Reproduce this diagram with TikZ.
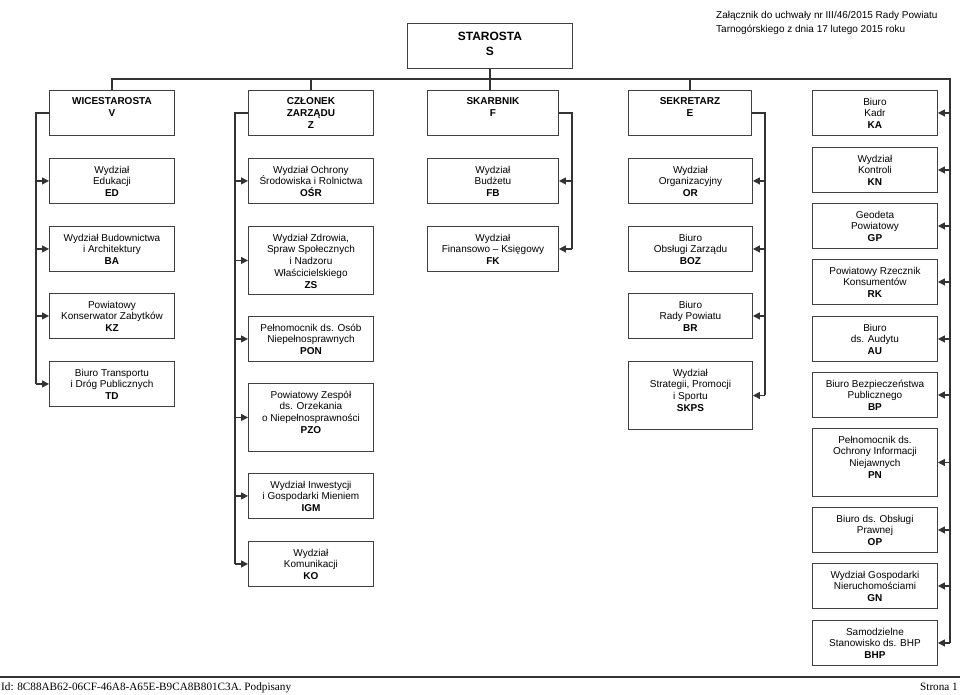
\documentclass[tikz,border=0pt]{standalone}
\usepackage{fontspec}
\setmainfont{Liberation Sans}
\newfontfamily\szeryf{Liberation Serif}
\usepackage{tikz}
\usetikzlibrary{arrows.meta}
\tikzset{
  komorka/.style={draw=black!75, line width=0.9pt, inner sep=0pt, anchor=north west}, % Rahmen
  opis/.style={anchor=north, align=center, inner sep=0pt,
    font=\fontsize{10}{11.8}\selectfont}, % Beschriftung
  linia/.style={draw=black!80, line width=1.2pt}, % Verbindungen
  strzalka/.style={linia, -{Triangle[length=7pt,width=7pt]}} % Pfeile
}
% Kasten: Name, x, y, Breite, Hoehe, Text
\newcommand{\Komorka}[7][]{%
  \node[komorka, minimum width=#5pt, minimum height=#6pt] (#2) at (#3,#4) {};
  \node[opis,#1] (#2-t) at ([yshift=-7.6pt]#2.north) {#7};
}

\begin{document}
\begin{tikzpicture}[x=1pt, y=-1pt]
\useasboundingbox (0,0) rectangle (960,694);

%Kopf
\node[anchor=north west, align=left, inner sep=0pt,
  font=\fontsize{10}{14}\selectfont] (kopf) at (716,11.2)
  {Załącznik do uchwały nr III/46/2015 Rady Powiatu\\
   Tarnogórskiego z dnia 17 lutego 2015 roku};

%Leitung
\Komorka[font=\fontsize{12}{15}\selectfont\bfseries, yshift=-1.4pt]{S}{407}{23}{165}{45}{STAROSTA\\S}
\Komorka{V}{49}{90}{125}{45}{\textbf{WICESTAROSTA}\\\textbf{V}}
\Komorka{Z}{248}{90}{125}{45}{\textbf{CZŁONEK}\\\textbf{ZARZĄDU}\\\textbf{Z}}
\Komorka{F}{427}{90}{131}{45}{\textbf{SKARBNIK}\\\textbf{F}}
\Komorka{E}{628}{90}{123}{45}{\textbf{SEKRETARZ}\\\textbf{E}}

%Wicestarosta
\Komorka{ED}{49}{158}{125}{45}{Wydział\\Edukacji\\\textbf{ED}}
\Komorka{BA}{49}{226}{125}{45}{Wydział Budownictwa\\i Architektury\\\textbf{BA}}
\Komorka{KZ}{49}{293}{125}{45}{Powiatowy\\Konserwator Zabytków\\\textbf{KZ}}
\Komorka{TD}{49}{361}{125}{45}{Biuro Transportu\\i Dróg Publicznych\\\textbf{TD}}

%Czlonek Zarzadu
\Komorka{OSR}{248}{158}{125}{45}{Wydział Ochrony\\Środowiska i Rolnictwa\\\textbf{OŚR}}
\Komorka{ZS}{248}{226}{125}{68}{Wydział Zdrowia,\\Spraw Społecznych\\i Nadzoru\\Właścicielskiego\\\textbf{ZS}}
\Komorka{PON}{248}{316}{125}{45}{Pełnomocnik ds. Osób\\Niepełnosprawnych\\\textbf{PON}}
\Komorka{PZO}{248}{383}{125}{68}{Powiatowy Zespół\\ds. Orzekania\\o Niepełnosprawności\\\textbf{PZO}}
\Komorka{IGM}{248}{473}{125}{45}{Wydział Inwestycji\\i Gospodarki Mieniem\\\textbf{IGM}}
\Komorka{KO}{248}{541}{125}{45}{Wydział\\Komunikacji\\\textbf{KO}}

%Skarbnik
\Komorka{FB}{427}{158}{131}{45}{Wydział\\Budżetu\\\textbf{FB}}
\Komorka{FK}{427}{226}{131}{45}{Wydział\\Finansowo – Księgowy\\\textbf{FK}}

%Sekretarz
\Komorka{OR}{628}{158}{124}{45}{Wydział\\Organizacyjny\\\textbf{OR}}
\Komorka{BOZ}{628}{226}{124}{45}{Biuro\\Obsługi Zarządu\\\textbf{BOZ}}
\Komorka{BR}{628}{293}{124}{45}{Biuro\\Rady Powiatu\\\textbf{BR}}
\Komorka{SKPS}{628}{361}{124}{68}{Wydział\\Strategii, Promocji\\i Sportu\\\textbf{SKPS}}

%Starosta direkt
\Komorka{KA}{812}{90}{125}{45}{Biuro\\Kadr\\\textbf{KA}}
\Komorka{KN}{812}{147}{125}{45}{Wydział\\Kontroli\\\textbf{KN}}
\Komorka{GP}{812}{203}{125}{45}{Geodeta\\Powiatowy\\\textbf{GP}}
\Komorka{RK}{812}{259}{125}{45}{Powiatowy Rzecznik\\Konsumentów\\\textbf{RK}}
\Komorka{AU}{812}{316}{125}{45}{Biuro\\ds. Audytu\\\textbf{AU}}
\Komorka{BP}{812}{372}{125}{45}{Biuro Bezpieczeństwa\\Publicznego\\\textbf{BP}}
\Komorka{PN}{812}{428}{125}{68}{Pełnomocnik ds.\\Ochrony Informacji\\Niejawnych\\\textbf{PN}}
\Komorka{OP}{812}{507}{125}{45}{Biuro ds. Obsługi\\Prawnej\\\textbf{OP}}
\Komorka{GN}{812}{563}{125}{45}{Wydział Gospodarki\\Nieruchomościami\\\textbf{GN}}
\Komorka{BHP}{812}{620}{125}{45}{Samodzielne\\Stanowisko ds. BHP\\\textbf{BHP}}

%Hilfspunkte
\coordinate (re) at (950,79);
\coordinate (lv) at (36,0);
\coordinate (lz) at (235,0);
\coordinate (rf) at (572,0);
\coordinate (rs) at (765,0);

%Leiterbahnen
\draw[linia] (S.south) -- (S.south |- F.north);
\draw[linia] (V.north) |- (re) -- (re |- BHP.east);
\draw[linia] (Z.north) -- (Z.north |- re);
\draw[linia] (E.north) -- (E.north |- re);
\draw[linia] (V.west) -| (lv |- TD.west);
\draw[linia] (Z.west) -| (lz |- KO.west);
\draw[linia] (F.east) -| (rf |- FK.east);
\draw[linia] (E.east) -| (rs |- SKPS.east);

%Pfeile
\foreach \k in {ED,BA,KZ,TD}
  \draw[strzalka] (lv |- \k.west) -- (\k.west);
\foreach \k in {OSR,ZS,PON,PZO,IGM,KO}
  \draw[strzalka] (lz |- \k.west) -- (\k.west);
\foreach \k in {FB,FK}
  \draw[strzalka] (rf |- \k.east) -- (\k.east);
\foreach \k in {OR,BOZ,BR,SKPS}
  \draw[strzalka] (rs |- \k.east) -- (\k.east);
\foreach \k in {KA,KN,GP,RK,AU,BP,PN,OP,GN,BHP}
  \draw[strzalka] (re |- \k.east) -- (\k.east);

%Fuss
\coordinate (fl) at (0,677);
\coordinate (fr) at (960,677);
\draw[draw=black!80, line width=1.3pt] (fl) -- (fr);
\node[anchor=base west, inner sep=0pt, font=\szeryf\fontsize{11.2}{13}\selectfont]
  (id) at (1,690) {Id: 8C88AB62-06CF-46A8-A65E-B9CA8B801C3A. Podpisany};
\node[anchor=base east, inner sep=0pt, font=\szeryf\fontsize{11.2}{13}\selectfont]
  (strona) at (958,690) {Strona 1};
\end{tikzpicture}
\end{document}
